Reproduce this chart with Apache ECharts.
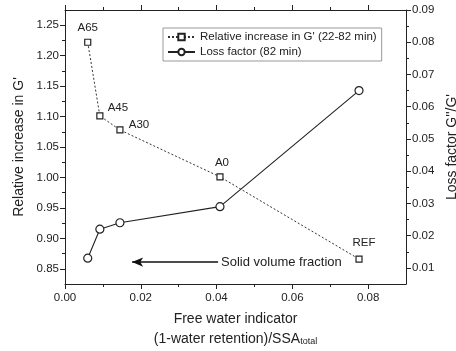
<!DOCTYPE html>
<html><head><meta charset="utf-8">
<script src="https://cdn.jsdelivr.net/npm/echarts@6.0.0/dist/echarts.min.js"></script>
<style>html,body{margin:0;padding:0;background:#fff}#c{width:456px;height:351px}</style>
</head><body><div id="c"></div>
<script>
const xVals = [0.0060, 0.0092, 0.0145, 0.0409, 0.0776];
const relIncrease = [1.222, 1.101, 1.078, 1.001, 0.866];
const lossFactor = [0.013, 0.022, 0.024, 0.029, 0.065];
const pointLabels = ['A65', 'A45', 'A30', 'A0', 'REF'];
const seriesNames = ["Relative increase in G' (22-82 min)", 'Loss factor (82 min)'];
const xTicks = [0, 0.02, 0.04, 0.06, 0.08];
const xMinor = [0.01, 0.03, 0.05, 0.07];
const leftTicks = [0.85, 0.90, 0.95, 1.00, 1.05, 1.10, 1.15, 1.20, 1.25];
const leftMinor = [0.875, 0.925, 0.975, 1.025, 1.075, 1.125, 1.175, 1.225];
const rightTicks = [0.01, 0.02, 0.03, 0.04, 0.05, 0.06, 0.07, 0.08, 0.09];
const rightMinor = [0.015, 0.025, 0.035, 0.045, 0.055, 0.065, 0.075, 0.085];
const arrowY = 0.861, arrowFrom = 0.0404, arrowTo = 0.0177;
const arrowText = 'Solid volume fraction';

const labelOffsets = [[0, 0], [18, 6], [19, 9], [2, 1], [5, -2]];
const FONT = 'Liberation Sans, Arial, sans-serif';
const TXT = '#222';
const LINE = '#222';

const chart = echarts.init(document.getElementById('c'), null, {renderer: 'canvas'});

function xAxisDef(pos, vals, len, showLine, showLabel) {
  return {
    type: 'value', position: pos, min: 0, max: 0.09,
    axisLine: {show: showLine, onZero: false, lineStyle: {color: LINE, width: 1}},
    axisTick: {show: true, inside: false, length: len, customValues: vals, lineStyle: {color: LINE}},
    axisLabel: {show: showLabel, customValues: vals, formatter: v => v.toFixed(2), color: TXT, fontFamily: FONT, fontSize: 11.5, margin: 8},
    splitLine: {show: false}
  };
}
function yAxisDef(pos, min, max, vals, len, showLine, showLabel) {
  return {
    type: 'value', position: pos, min: min, max: max,
    axisLine: {show: showLine, onZero: false, lineStyle: {color: LINE, width: 1}},
    axisTick: {show: true, inside: false, length: len, customValues: vals, lineStyle: {color: LINE}},
    axisLabel: {show: showLabel, customValues: vals, formatter: v => v.toFixed(2), color: TXT, fontFamily: FONT, fontSize: 11.5, margin: 6},
    splitLine: {show: false}
  };
}

const xMain = xAxisDef('bottom', xTicks, 5, true, true);
xMain.name = 'Free water indicator\n(1-water retention)/SSA{sub|total}';
xMain.nameLocation = 'middle';
xMain.nameGap = 25;
xMain.nameTextStyle = {color: TXT, fontFamily: FONT, fontSize: 14, lineHeight: 20,
  rich: {sub: {fontSize: 9, fontFamily: FONT, color: TXT, lineHeight: 20, padding: [5, 0, 0, 0]}}};

const yLeft = yAxisDef('left', 0.825, 1.275, leftTicks, 5, true, true);
yLeft.name = "Relative increase in G'";
yLeft.nameLocation = 'middle';
yLeft.nameRotate = 90;
yLeft.nameGap = 39;
yLeft.nameTextStyle = {color: TXT, fontFamily: FONT, fontSize: 14};

const yRight = yAxisDef('right', 0.005, 0.09, rightTicks, 5, true, true);
yRight.name = "Loss factor G''/G'";
yRight.nameLocation = 'middle';
yRight.nameRotate = 90;
yRight.nameGap = 37;
yRight.nameTextStyle = {color: TXT, fontFamily: FONT, fontSize: 14};

const sqData = xVals.map((x, i) => ({
  value: [x, relIncrease[i]],
  label: {show: true, formatter: pointLabels[i], position: 'top', offset: labelOffsets[i],
          color: TXT, fontFamily: FONT, fontSize: 11.5}
}));
const ciData = xVals.map((x, i) => [x, lossFactor[i]]);

chart.setOption({
  animation: false,
  backgroundColor: '#fff',
  grid: {left: 65, top: 10, right: 50, bottom: 67, containLabel: false, outerBoundsMode: 'none'},
  xAxis: [
    xMain,
    xAxisDef('bottom', xMinor, 3, false, false),
    xAxisDef('top', xTicks, 5, true, false),
    xAxisDef('top', xMinor, 3, false, false)
  ],
  yAxis: [
    yLeft,
    yRight,
    yAxisDef('left', 0.825, 1.275, leftMinor, 3, false, false),
    yAxisDef('right', 0.005, 0.09, rightMinor, 3, false, false)
  ],
  legend: {
    orient: 'vertical', left: 163, top: 28,
    padding: [3, 5, 3, 4], itemGap: 3, itemWidth: 27, itemHeight: 8,
    borderColor: '#999', borderWidth: 1, backgroundColor: '#fff',
    textStyle: {color: TXT, fontFamily: FONT, fontSize: 11.5},
    data: seriesNames
  },
  series: [
    {
      name: seriesNames[0], type: 'line', xAxisIndex: 0, yAxisIndex: 0,
      data: sqData, symbol: 'rect', symbolSize: 6,
      lineStyle: {color: '#333', width: 1, type: [2, 2]},
      itemStyle: {color: '#fff', borderColor: '#222', borderWidth: 1.2},
      z: 3,
      markLine: {
        silent: true, symbol: ['none', 'arrow'], symbolSize: [7, 11],
        lineStyle: {color: '#111', width: 1.5, type: 'solid'},
        label: {show: true, position: 'start', formatter: arrowText, color: TXT, fontFamily: FONT, fontSize: 13, distance: 3},
        data: [[{coord: [arrowFrom, arrowY]}, {coord: [arrowTo, arrowY]}]]
      }
    },
    {
      name: seriesNames[1], type: 'line', xAxisIndex: 0, yAxisIndex: 1,
      data: ciData, symbol: 'circle', symbolSize: 8,
      lineStyle: {color: '#222', width: 1.1, type: 'solid'},
      itemStyle: {color: '#fff', borderColor: '#222', borderWidth: 1.2},
      z: 3
    }
  ]
});
</script>
</body></html>
